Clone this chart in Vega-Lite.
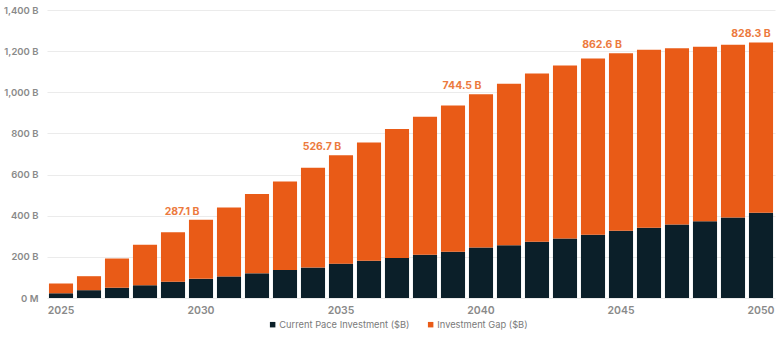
{
  "$schema": "https://vega.github.io/schema/vega-lite/v6.json",
  "width": 728,
  "height": 288,
  "autosize": {"type": "none"},
  "padding": {"left": 47, "top": 10, "right": 5, "bottom": 41},
  "background": "white",
  "config": {
    "view": {"stroke": null},
    "font": "Inter",
    "axis": {"labelFont": "Inter", "labelFontWeight": 600, "labelColor": "#8a8a8a", "labelFontSize": 10.5, "ticks": false, "domain": false}
  },
  "data": {
    "values": [
      {"year": 2025, "series": "Current Pace Investment ($B)", "value": 23}, {"year": 2025, "series": "Investment Gap ($B)", "value": 47.5},
      {"year": 2026, "series": "Current Pace Investment ($B)", "value": 38}, {"year": 2026, "series": "Investment Gap ($B)", "value": 68},
      {"year": 2027, "series": "Current Pace Investment ($B)", "value": 50}, {"year": 2027, "series": "Investment Gap ($B)", "value": 142},
      {"year": 2028, "series": "Current Pace Investment ($B)", "value": 62}, {"year": 2028, "series": "Investment Gap ($B)", "value": 197},
      {"year": 2029, "series": "Current Pace Investment ($B)", "value": 79}, {"year": 2029, "series": "Investment Gap ($B)", "value": 241},
      {"year": 2030, "series": "Current Pace Investment ($B)", "value": 93}, {"year": 2030, "series": "Investment Gap ($B)", "value": 287.1},
      {"year": 2031, "series": "Current Pace Investment ($B)", "value": 105}, {"year": 2031, "series": "Investment Gap ($B)", "value": 335},
      {"year": 2032, "series": "Current Pace Investment ($B)", "value": 120}, {"year": 2032, "series": "Investment Gap ($B)", "value": 385},
      {"year": 2033, "series": "Current Pace Investment ($B)", "value": 136}, {"year": 2033, "series": "Investment Gap ($B)", "value": 430},
      {"year": 2034, "series": "Current Pace Investment ($B)", "value": 148}, {"year": 2034, "series": "Investment Gap ($B)", "value": 485},
      {"year": 2035, "series": "Current Pace Investment ($B)", "value": 167}, {"year": 2035, "series": "Investment Gap ($B)", "value": 526.7},
      {"year": 2036, "series": "Current Pace Investment ($B)", "value": 181}, {"year": 2036, "series": "Investment Gap ($B)", "value": 575},
      {"year": 2037, "series": "Current Pace Investment ($B)", "value": 194}, {"year": 2037, "series": "Investment Gap ($B)", "value": 627},
      {"year": 2038, "series": "Current Pace Investment ($B)", "value": 210}, {"year": 2038, "series": "Investment Gap ($B)", "value": 671},
      {"year": 2039, "series": "Current Pace Investment ($B)", "value": 225}, {"year": 2039, "series": "Investment Gap ($B)", "value": 711},
      {"year": 2040, "series": "Current Pace Investment ($B)", "value": 246}, {"year": 2040, "series": "Investment Gap ($B)", "value": 744.5},
      {"year": 2041, "series": "Current Pace Investment ($B)", "value": 257}, {"year": 2041, "series": "Investment Gap ($B)", "value": 785},
      {"year": 2042, "series": "Current Pace Investment ($B)", "value": 273}, {"year": 2042, "series": "Investment Gap ($B)", "value": 818},
      {"year": 2043, "series": "Current Pace Investment ($B)", "value": 289}, {"year": 2043, "series": "Investment Gap ($B)", "value": 841},
      {"year": 2044, "series": "Current Pace Investment ($B)", "value": 307}, {"year": 2044, "series": "Investment Gap ($B)", "value": 857},
      {"year": 2045, "series": "Current Pace Investment ($B)", "value": 327}, {"year": 2045, "series": "Investment Gap ($B)", "value": 862.6},
      {"year": 2046, "series": "Current Pace Investment ($B)", "value": 341}, {"year": 2046, "series": "Investment Gap ($B)", "value": 866},
      {"year": 2047, "series": "Current Pace Investment ($B)", "value": 357}, {"year": 2047, "series": "Investment Gap ($B)", "value": 857},
      {"year": 2048, "series": "Current Pace Investment ($B)", "value": 373}, {"year": 2048, "series": "Investment Gap ($B)", "value": 848},
      {"year": 2049, "series": "Current Pace Investment ($B)", "value": 391}, {"year": 2049, "series": "Investment Gap ($B)", "value": 840},
      {"year": 2050, "series": "Current Pace Investment ($B)", "value": 414}, {"year": 2050, "series": "Investment Gap ($B)", "value": 828.3}
    ]
  },
  "encoding": {
    "x": {
      "field": "year", "type": "ordinal",
      "scale": {"paddingInner": 0.14, "paddingOuter": 0.07},
      "axis": {"title": null, "labelAngle": 0, "values": [2025, 2030, 2035, 2040, 2045, 2050], "labelPadding": 7, "grid": false}
    }
  },
  "layer": [
    {
      "mark": {"type": "bar"},
      "encoding": {
        "y": {
          "field": "value", "type": "quantitative", "stack": "zero",
          "scale": {"domain": [0, 1400], "nice": false},
          "axis": {"title": null, "values": [0, 200, 400, 600, 800, 1000, 1200, 1400], "labelExpr": "datum.value == 0 ? '0 M' : format(datum.value, ',') + ' B'", "labelPadding": 9, "labelFontSize": 9.5, "gridColor": "#ebebeb", "gridWidth": 1}
        },
        "color": {
          "field": "series", "type": "nominal",
          "scale": {"domain": ["Current Pace Investment ($B)", "Investment Gap ($B)"], "range": ["#0b1f29", "#e95b17"]},
          "legend": {"title": null, "orient": "none", "legendX": 221, "legendY": 310, "direction": "horizontal", "symbolType": "square", "symbolSize": 30, "labelFontSize": 9.3, "labelColor": "#7a7a7a", "labelFont": "Inter", "columnPadding": 16, "symbolOffset": 0, "labelOffset": 2}
        },
        "order": {"field": "series", "sort": "ascending"}
      }
    },
    {
      "transform": [
        {"joinaggregate": [{"op": "sum", "field": "value", "as": "total"}], "groupby": ["year"]},
        {"filter": "datum.series == 'Investment Gap ($B)' && (datum.year == 2030 || datum.year == 2035 || datum.year == 2040 || datum.year == 2045)"},
        {"calculate": "format(datum.value, '.1f') + ' B'", "as": "label"}
      ],
      "mark": {"type": "text", "dx": -19, "dy": -5, "baseline": "alphabetic", "fontSize": 10.5, "fontWeight": 700, "color": "#ec7a3e", "font": "Inter"},
      "encoding": {
        "y": {"field": "total", "type": "quantitative"},
        "text": {"field": "label", "type": "nominal"}
      }
    },
    {
      "transform": [
        {"joinaggregate": [{"op": "sum", "field": "value", "as": "total"}], "groupby": ["year"]},
        {"filter": "datum.series == 'Investment Gap ($B)' && datum.year == 2050"},
        {"calculate": "format(datum.value, '.1f') + ' B'", "as": "label"}
      ],
      "mark": {"type": "text", "dx": -10, "dy": -5, "baseline": "alphabetic", "fontSize": 10.5, "fontWeight": 700, "color": "#ec7a3e", "font": "Inter"},
      "encoding": {
        "y": {"field": "total", "type": "quantitative"},
        "text": {"field": "label", "type": "nominal"}
      }
    }
  ]
}
